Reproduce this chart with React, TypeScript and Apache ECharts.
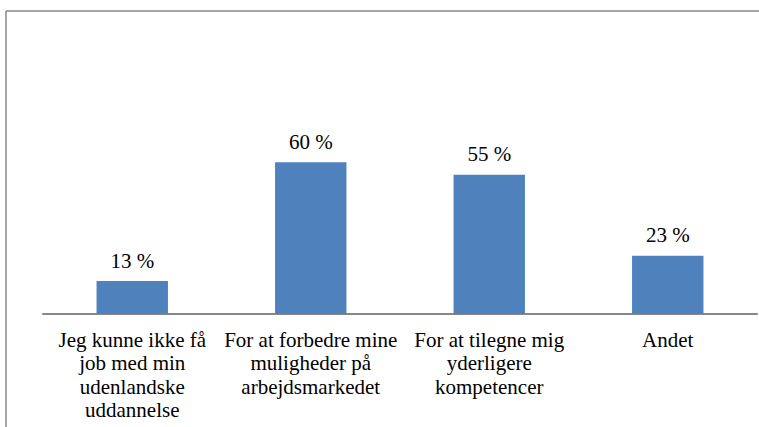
import React, { useEffect, useRef } from "react";
import * as echarts from "echarts";

const categories = [
  "Jeg kunne ikke få\njob med min\nudenlandske\nuddannelse",
  "For at forbedre mine\nmuligheder på\narbejdsmarkedet",
  "For at tilegne mig\nyderligere\nkompetencer",
  "Andet",
];
const values = [13, 60, 55, 23];

export default function App() {
  const ref = useRef<HTMLDivElement>(null);
  useEffect(() => {
    if (!ref.current) return;
    const chart = echarts.init(ref.current, null, { renderer: "svg" });
    const font = "Liberation Serif";
    chart.setOption({
      animation: false,
      backgroundColor: "#ffffff",
      textStyle: { fontFamily: font },
      graphic: [
        {
          type: "line",
          shape: { x1: 6, y1: 11, x2: 6, y2: 430 },
          style: { stroke: "#8a8a8a", lineWidth: 1.5 },
          silent: true,
        },
        {
          type: "line",
          shape: { x1: 6, y1: 11, x2: 770, y2: 11 },
          style: { stroke: "#8a8a8a", lineWidth: 1.5 },
          silent: true,
        },
      ],
      grid: { left: 43, right: 2, top: 61, bottom: 113, containLabel: false },
      xAxis: {
        type: "category",
        data: categories,
        axisLine: { show: true, lineStyle: { color: "#878787", width: 2 } },
        axisTick: { show: false },
        splitLine: { show: false },
        axisLabel: {
          interval: 0,
          color: "#000000",
          fontFamily: font,
          fontSize: 21,
          lineHeight: 23.5,
          margin: 14,
        },
      },
      yAxis: {
        type: "value",
        min: 0,
        max: 100,
        show: false,
        axisLine: { show: false },
        splitLine: { show: false },
      },
      series: [
        {
          type: "bar",
          data: values,
          barWidth: "40%",
          itemStyle: { color: "#4F81BD" },
          label: {
            show: true,
            position: "top",
            distance: 9,
            color: "#000000",
            fontFamily: font,
            fontSize: 21,
            lineHeight: 23,
            formatter: (p: any) => `${p.value} %`,
          },
        },
      ],
    });
    return () => chart.dispose();
  }, []);
  return (
    <div
      ref={ref}
      style={{ position: "fixed", left: 0, top: 0, width: 759, height: 427 }}
    />
  );
}
